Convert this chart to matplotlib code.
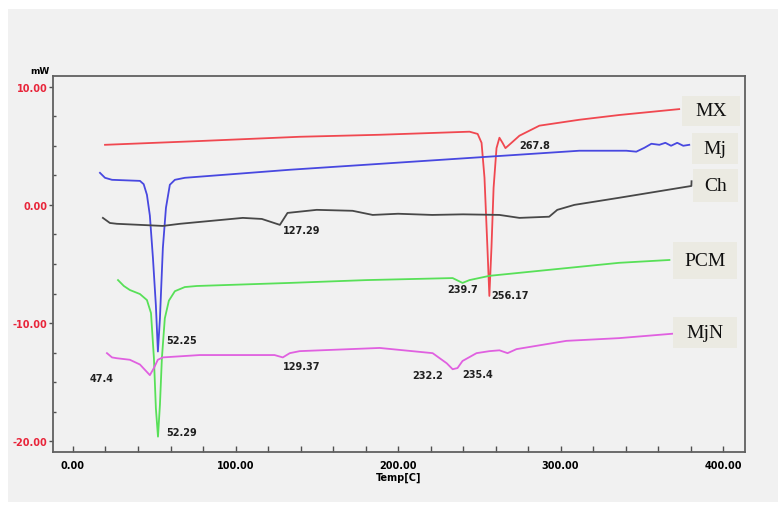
import matplotlib
matplotlib.use('Agg')
from matplotlib import pyplot as plt, rcParams
from matplotlib.patches import Rectangle
from matplotlib.ticker import MultipleLocator, FormatStrFormatter

rcParams['font.family'] = ['DejaVu Sans']

# DSC curves: temperature [C] and heat flow [mW]
mx_t = [19.7, 78, 139.5, 188.7, 244, 249, 251.4, 253.2, 255, 256.2, 257.5, 258.8, 260.6,
        262.4, 264.3, 266.1, 268.6, 274.7, 287, 311.6, 336, 373]
mx_w = [5.08, 5.4, 5.76, 5.93, 6.19, 6.0, 5.25, 2.3, -3.6, -7.7, -3.6, 1.44, 4.8,
        5.68, 5.25, 4.8, 5.1, 5.85, 6.7, 7.2, 7.6, 8.1]

mj_t = [16.6, 19.7, 24, 41.2, 43.5, 45.5, 47.3, 49.2, 51, 52.25, 53.5, 55.3, 57.2, 59.6,
        62.7, 68.8, 133.4, 188.7, 311.6, 340.5, 346.6, 351.6, 355.9, 360.8, 364.5, 368,
        371.8, 375.5, 379.2]
mj_w = [2.71, 2.29, 2.12, 2.03, 1.75, 0.85, -0.9, -4.5, -8.5, -12.4, -9.6, -3.64, -0.25, 1.7,
        2.12, 2.29, 2.97, 3.47, 4.58, 4.58, 4.5, 4.83, 5.17, 5.08, 5.25, 5.0,
        5.25, 5.0, 5.08]

ch_t = [18.4, 22.7, 27, 55.3, 65.8, 104.5, 116.2, 127.3, 132, 150, 172, 184.4, 200, 221,
        240, 262.4, 274.7, 293, 298, 308.5, 336, 380.5, 380.6]
ch_w = [-1.1, -1.53, -1.6, -1.78, -1.6, -1.1, -1.19, -1.69, -0.68, -0.42, -0.5, -0.85, -0.75, -0.85,
        -0.8, -0.85, -1.1, -1.0, -0.42, 0.0, 0.6, 1.6, 2.0]

pcm_t = [27.7, 31.3, 35, 41.2, 45.5, 48, 49.8, 51, 52.3, 53.5, 54.7, 56.5, 59, 62.7, 68.8,
         76.2, 133.4, 180.7, 233.6, 239.7, 244, 256.3, 336, 367]
pcm_w = [-6.36, -6.86, -7.2, -7.54, -8.05, -9.15, -12.97, -17.2, -19.6, -16.9, -12.97, -9.6,
         -8.1, -7.3, -6.95, -6.86, -6.6, -6.36, -6.19, -6.6, -6.36, -6.0, -4.9, -4.66]

mjn_t = [20.9, 24, 27, 35, 41.2, 47.3, 49.8, 52.2, 55.3, 78, 124, 129.1, 133.4, 139.5,
         188.7, 221.3, 230, 233.6, 236.6, 239.7, 248.3, 256.3, 262.4, 267.4, 272.9, 303.6,
         336, 373]
mjn_w = [-12.54, -12.9, -12.97, -13.1, -13.5, -14.4, -13.8, -13.1, -12.9, -12.7, -12.7, -12.9,
         -12.54, -12.37, -12.1, -12.54, -13.4, -13.9, -13.8, -13.2, -12.54, -12.37, -12.3,
         -12.54, -12.2, -11.5, -11.27, -10.85]

# peak labels: text, x, y
peak_txt = ['267.8', '127.29', '52.25', '47.4', '129.37', '232.2', '235.4', '239.7', '256.17', '52.29']
peak_x = [274.7, 129, 57.2, 10.4, 129, 209, 239.7, 230, 257.5, 57.2]
peak_y = [5.08, -2.1, -11.44, -14.6, -13.6, -14.4, -14.3, -7.1, -7.6, -19.2]

# sample names at the right end, and their label boxes in pixels (left, top, right, bottom)
names = ['MX', 'Mj', 'Ch', 'PCM', 'MjN']
name_box = [(682, 97, 740, 127), (692, 134, 738, 165), (693, 170, 738, 203),
            (673, 243, 737, 280), (673, 318, 737, 349)]

W, H = 778, 506
bg = '#f1f1f1'
fig = plt.figure(figsize=(W / 100, H / 100), dpi=100, facecolor=bg)
# white strips at the top and left of the screenshot
fig.patches.append(Rectangle((0, 1 - 10 / H), 1, 10 / H, transform=fig.transFigure,
                             fc='white', ec='none', zorder=-1))
fig.patches.append(Rectangle((0, 0), 8 / W, 1, transform=fig.transFigure,
                             fc='white', ec='none', zorder=-1))
fig.patches.append(Rectangle((0, 0), 1, 3 / H, transform=fig.transFigure,
                             fc='white', ec='none', zorder=-1))

ax = fig.add_axes([53 / W, 1 - 453 / H, (745 - 53) / W, (453 - 77) / H])
ax.set_facecolor(bg)

ax.plot(mx_t, mx_w, color='#f04850', lw=1.3)
ax.plot(mj_t, mj_w, color='#4848e0', lw=1.3)
ax.plot(ch_t, ch_w, color='#484848', lw=1.3)
ax.plot(pcm_t, pcm_w, color='#58e058', lw=1.3)
ax.plot(mjn_t, mjn_w, color='#e060e0', lw=1.3)

for t, x, y in zip(peak_txt, peak_x, peak_y):
    ax.text(x, y, t, fontsize=7, fontweight='bold', color='#202020', ha='left', va='center')

for t, (l, tp, r, b) in zip(names, name_box):
    fig.patches.append(Rectangle((l / W, 1 - b / H), (r - l) / W, (b - tp) / H,
                                 transform=fig.transFigure, fc='#ebeae2', ec='none', zorder=3))
    fig.text((l + r) / 2 / W, 1 - (tp + b) / 2 / H, t, fontsize=14, family='Liberation Serif',
             color='#101010', ha='center', va='center', zorder=4)

ax.set_xlim(-12.3, 413.5)
ax.set_ylim(-20.9, 10.9)
ax.xaxis.set_major_locator(MultipleLocator(100))
ax.xaxis.set_minor_locator(MultipleLocator(20))
ax.yaxis.set_major_locator(MultipleLocator(10))
ax.yaxis.set_minor_locator(MultipleLocator(2.5))
ax.xaxis.set_major_formatter(FormatStrFormatter('%.2f'))
ax.yaxis.set_major_formatter(FormatStrFormatter('%.2f'))
ax.tick_params(axis='x', which='both', direction='in', length=4, width=1, color='#505050',
               labelsize=7, pad=6)
ax.tick_params(axis='y', which='major', direction='out', length=3, width=1, color='#505050',
               labelsize=7, labelcolor='#e8253a', pad=1)
ax.tick_params(axis='y', which='minor', direction='in', length=2, width=1, color='#505050')
for lab in ax.get_xticklabels() + ax.get_yticklabels():
    lab.set_fontweight('bold')
for s in ax.spines.values():
    s.set_color('#606060')
    s.set_linewidth(1.3)

fig.text(40 / W, 1 - 71 / H, 'mW', fontsize=6.5, fontweight='bold', ha='center', va='center')
ax.set_xlabel('Temp[C]', fontsize=7, fontweight='bold', labelpad=1)

fig.savefig('out.png', dpi=100, facecolor=bg)
